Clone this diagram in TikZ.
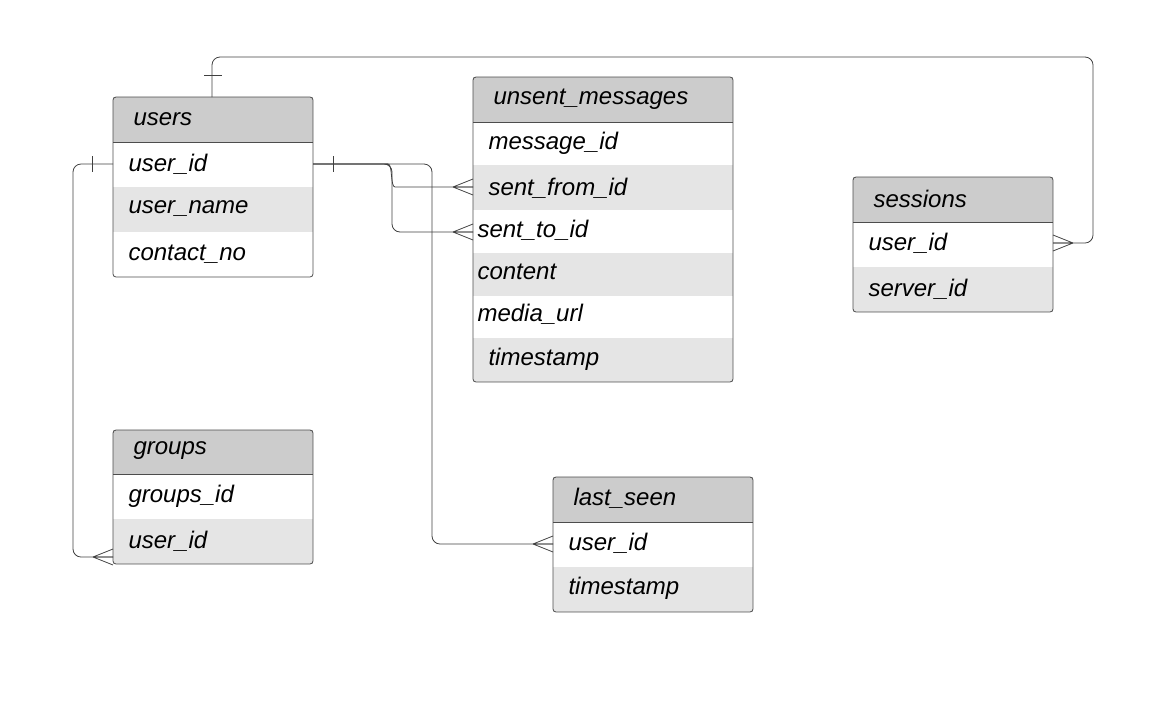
\documentclass[tikz,border=0pt]{standalone}
\usepackage{fontspec}
\setmainfont{Liberation Sans}
\begin{document}
\begin{tikzpicture}[x=1pt,y=-1pt,
  font=\fontsize{24}{28}\selectfont\itshape,
  cell/.style={anchor=north west,minimum height=#1,inner ysep=0pt,align=left,outer sep=0pt},
  hd/.style={fill=black!20},
  sh/.style={fill=black!10},
  frame/.style={draw=black!70,rounded corners=3pt,line width=0.8pt},
  sep/.style={draw=black!70,line width=0.6pt},
  link/.style={draw=black!75,line width=0.8pt,rounded corners=8pt}]
\useasboundingbox (0,0) rectangle (1153,724);
% generic cell macro via nodes
\newcommand{\cellrow}[7]{% name, x, y, w, h, indent, fillstyle/text
  \node[cell=#5,minimum width=#4,text width=#4-#6-2,inner xsep=0pt,#7] (#1) at (#2,#3) {\hspace*{#6pt}#1text};}
% ---- users
\fill[black!20] (113,97) rectangle (313,142);
\fill[black!10] (113,187) rectangle (313,232);
\node[anchor=west] (usersH) at (130,119) {users};
\node[anchor=west] (uUid) at (125,164) {user\_id};
\node[anchor=west] (uName) at (125,209) {user\_name};
\node[anchor=west] (uCont) at (125,254) {contact\_no};
\draw[sep] (113,142) -- (313,142);
\draw[frame] (113,97) rectangle (313,277);
\coordinate (uTop) at (212,97);
\coordinate (uL) at (113,164);
\coordinate (uR) at (313,164);
% ---- unsent_messages
\fill[black!20] (473,77) rectangle (733,122);
\fill[black!10] (473,165) rectangle (733,210);
\fill[black!10] (473,253) rectangle (733,296);
\fill[black!10] (473,338) rectangle (733,382);
\node[anchor=west] (umH) at (490,99) {unsent\_messages};
\node[anchor=west] (umId) at (485,143) {message\_id};
\node[anchor=west] (umFrom) at (485,188) {sent\_from\_id};
\node[anchor=west] (umTo) at (474,230) {sent\_to\_id};
\node[anchor=west] (umCont) at (474,272) {content};
\node[anchor=west] (umUrl) at (474,314) {media\_url};
\node[anchor=west] (umTs) at (485,359) {timestamp};
\draw[sep] (473,122) -- (733,122);
\draw[frame] (473,77) rectangle (733,382);
\coordinate (umFromL) at (473,187);
\coordinate (umToL) at (473,232);
% ---- sessions
\fill[black!20] (853,177) rectangle (1053,222);
\fill[black!10] (853,267) rectangle (1053,312);
\node[anchor=west] (sH) at (870,199) {sessions};
\node[anchor=west] (sUid) at (865,243) {user\_id};
\node[anchor=west] (sSrv) at (865,289) {server\_id};
\draw[sep] (853,222) -- (1053,222);
\draw[frame] (853,177) rectangle (1053,312);
\coordinate (sR) at (1053,243);
% ---- groups
\fill[black!20] (113,430) rectangle (313,474);
\fill[black!10] (113,519) rectangle (313,564);
\node[anchor=west] (gH) at (130,451) {groups};
\node[anchor=west] (gId) at (125,496) {groups\_id};
\node[anchor=west] (gUid) at (125,541) {user\_id};
\draw[sep] (113,474) -- (313,474);
\draw[frame] (113,430) rectangle (313,564);
\coordinate (gL) at (113,557);
% ---- last_seen
\fill[black!20] (553,477) rectangle (753,522);
\fill[black!10] (553,567) rectangle (753,612);
\node[anchor=west] (lH) at (570,498) {last\_seen};
\node[anchor=west] (lUid) at (565,543) {user\_id};
\node[anchor=west] (lTs) at (565,588) {timestamp};
\draw[sep] (553,522) -- (753,522);
\draw[frame] (553,477) rectangle (753,612);
\coordinate (lL) at (553,544);
% ---- connectors
\draw[link] (uTop) |- (1093,57) |- (sR);
\draw[link] (uL) -| (73,557) -- (gL);
\draw[link] (uR) -| (432,544) -- (lL);
\draw[link] (uR) -- (380,164) to[out=0,in=180] (403,187) -- (umFromL);
\draw[link] (uR) -- (380,164) [rounded corners=8pt] -- (392,164) -- (392,232) -- (umToL);
% bars
\draw[link] (204,75) -- (222,75);
\draw[link] (92,156) -- (92,172);
\draw[link] (333,156) -- (333,172);
% crow's feet
\foreach \p/\d in {sR/1,gL/-1,lL/-1,umFromL/-1,umToL/-1}{
  \draw[draw=black!75,line width=0.8pt] ([xshift=\d*20]\p) -- ([yshift=-8]\p)
     ([xshift=\d*20]\p) -- (\p) ([xshift=\d*20]\p) -- ([yshift=8]\p);
}
\end{tikzpicture}
\end{document}
